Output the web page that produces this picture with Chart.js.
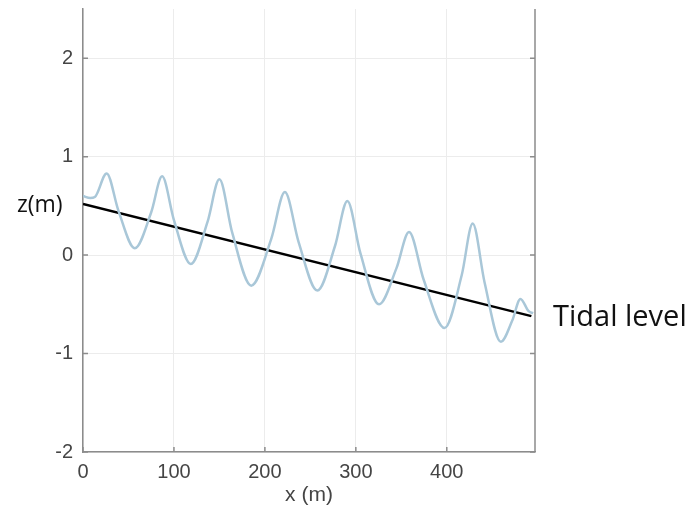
<!DOCTYPE html>
<html>
<head>
<meta charset="utf-8">
<script src="https://cdn.jsdelivr.net/npm/chart.js@4"></script>
<style>
  html, body { margin: 0; padding: 0; background: #fff; }
  #wrap { width: 690px; height: 512px; }
</style>
</head>
<body>
<div id="wrap"><canvas id="profile"></canvas></div>
<script>
// surface elevation along the profile (crests, troughs and mid-slope points)
const waveX = [0, 8, 13, 26, 39, 57, 75, 87, 100, 118.5, 137, 150, 164, 185, 207, 222, 237, 257.7,
  277, 290.7, 305, 325.5, 344.6, 358.5, 374.6, 397.5, 416.4, 428.5, 441.5, 459.5, 472, 481, 490, 495];
const waveZ = [0.60, 0.58, 0.59, 0.83, 0.45, 0.07, 0.435, 0.80, 0.355, -0.09, 0.34, 0.77, 0.23, -0.31,
  0.165, 0.64, 0.135, -0.36, 0.09, 0.55, 0.02, -0.50, -0.135, 0.235, -0.25, -0.74, -0.205, 0.32,
  -0.275, -0.88, -0.665, -0.445, -0.57, -0.59];

// mean tidal level, linear trend
const tideX = [0, 493];
const tideZ = [0.52, -0.62];

const xTicks = [0, 100, 200, 300, 400];
const yTicks = [-2, -1, 0, 1, 2];

const toPoints = (xs, ys) => xs.map((x, i) => ({ x: x, y: ys[i] }));

const axisColor = "#8c8c8c";
const labelColor = "#454545";
const tickFont = { family: "'Liberation Sans', Arial, sans-serif", size: 20 };

// right border, inward ticks and the two side annotations
const frame = {
  id: "frame",
  afterDraw(chart) {
    const { ctx, chartArea: a, scales } = chart;
    ctx.save();
    ctx.strokeStyle = axisColor;
    ctx.lineWidth = 1.5;
    ctx.beginPath();
    ctx.moveTo(a.right, a.top);
    ctx.lineTo(a.right, a.bottom);
    yTicks.forEach((v) => {
      const y = scales.y.getPixelForValue(v);
      ctx.moveTo(a.left, y); ctx.lineTo(a.left + 5, y);
      ctx.moveTo(a.right, y); ctx.lineTo(a.right - 5, y);
    });
    xTicks.forEach((v) => {
      const x = scales.x.getPixelForValue(v);
      ctx.moveTo(x, a.bottom); ctx.lineTo(x, a.bottom - 5);
    });
    ctx.stroke();

    ctx.fillStyle = "#111";
    ctx.textBaseline = "middle";
    ctx.font = "23px 'Open Sans', sans-serif";
    ctx.fillText("z(m)", 17, 205);
    ctx.font = "29px 'Open Sans', sans-serif";
    ctx.fillText("Tidal level", 553, 318);
    ctx.restore();
  },
};

new Chart(document.getElementById("profile"), {
  type: "line",
  data: {
    datasets: [
      {
        label: "Surface",
        data: toPoints(waveX, waveZ),
        borderColor: "#a9c7d8",
        borderWidth: 2.5,
        pointRadius: 0,
        cubicInterpolationMode: "monotone",
      },
      {
        label: "Tidal level",
        data: toPoints(tideX, tideZ),
        borderColor: "#000",
        borderWidth: 2.5,
        pointRadius: 0,
      },
    ],
  },
  options: {
    responsive: true,
    maintainAspectRatio: false,
    animation: false,
    layout: { padding: { top: 9, right: 155, left: 0, bottom: 0 } },
    plugins: { legend: { display: false }, tooltip: { enabled: false } },
    scales: {
      x: {
        type: "linear",
        min: 0,
        max: 497,
        afterBuildTicks: (s) => { s.ticks = xTicks.map((v) => ({ value: v })); },
        afterFit: (s) => { s.height = 60; s.paddingLeft = 0; s.paddingRight = 0; },
        ticks: { color: labelColor, font: tickFont, padding: 8, maxRotation: 0 },
        grid: { color: "#ececec", drawTicks: false },
        border: { color: axisColor, width: 1.5 },
        title: {
          display: true,
          text: "x (m)",
          color: labelColor,
          font: { family: "'Liberation Sans', Arial, sans-serif", size: 21 },
          padding: { top: 0 },
        },
      },
      y: {
        min: -2,
        max: 2.5,
        afterBuildTicks: (s) => { s.ticks = yTicks.map((v) => ({ value: v })); },
        afterFit: (s) => { s.width = 83; s.paddingTop = 0; s.paddingBottom = 0; },
        ticks: { color: labelColor, font: tickFont, padding: 10 },
        grid: { color: "#ececec", drawTicks: false },
        border: { color: axisColor, width: 1.5 },
      },
    },
  },
  plugins: [frame],
});
</script>
</body>
</html>
